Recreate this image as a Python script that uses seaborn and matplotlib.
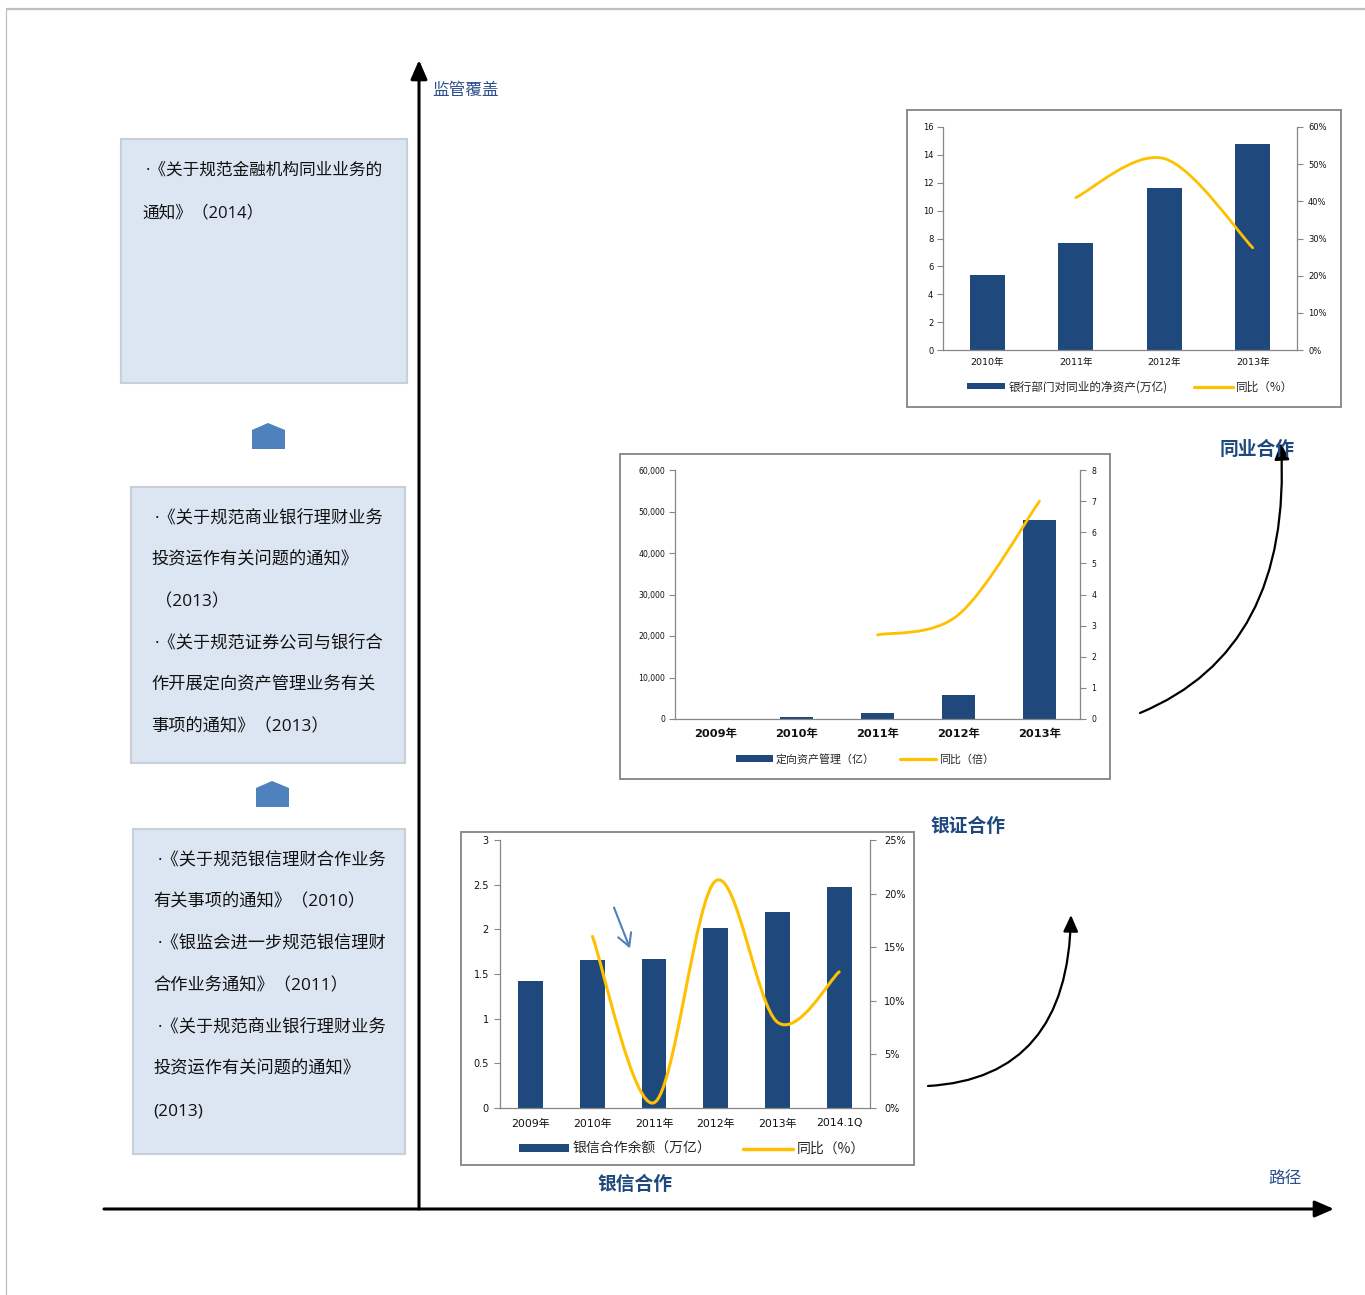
import numpy as np
import matplotlib
matplotlib.use('Agg')
import matplotlib.pyplot as plt
import seaborn as sns
import pandas as pd
from matplotlib.path import Path
from matplotlib.patches import PathPatch, Rectangle, Polygon, FancyArrowPatch, Patch
from matplotlib.lines import Line2D

# ---------------- data ----------------
c1_years = ['2010年', '2011年', '2012年', '2013年']
c1_assets = [5.4, 7.65, 11.6, 14.8]          # 银行部门对同业的净资产(万亿)
c1_yoy_years = ['2011年', '2012年', '2013年']
c1_yoy = [41.0, 51.5, 27.5]                   # 同比 %

c2_years = ['2009年', '2010年', '2011年', '2012年', '2013年']
c2_amt = [0, 400, 1400, 5900, 48000]          # 定向资产管理（亿）
c2_yoy_years = ['2011年', '2012年', '2013年']
c2_yoy = [2.7, 3.35, 7.0]                     # 同比（倍）

c3_years = ['2009年', '2010年', '2011年', '2012年', '2013年', '2014.1Q']
c3_bal = [1.42, 1.66, 1.67, 2.02, 2.19, 2.47]  # 银信合作余额（万亿）
c3_yoy_years = ['2010年', '2011年', '2012年', '2013年', '2014.1Q']
c3_yoy = [16.0, 0.5, 21.2, 8.0, 12.7]          # 同比 %

box1_lines = ['·《关于规范金融机构同业业务的', '通知》（2014）']
box2_lines = ['·《关于规范商业银行理财业务', '投资运作有关问题的通知》', '（2013）',
              '·《关于规范证券公司与银行合', '作开展定向资产管理业务有关', '事项的通知》（2013）']
box3_lines = ['·《关于规范银信理财合作业务', '有关事项的通知》（2010）', '·《银监会进一步规范银信理财',
              '合作业务通知》（2011）', '·《关于规范商业银行理财业务', '投资运作有关问题的通知》', '(2013)']

# ---------------- style ----------------
sns.set_style('white')
plt.rcParams['font.family'] = ['DejaVu Sans', 'Noto Sans CJK SC']
plt.rcParams['axes.unicode_minus'] = False

W, H = 1365, 1295
BAR = '#1F497D'
LINE = '#FFC000'
GRAY = '#868686'
NAVY = '#1F497D'
CJK = ['Noto Sans CJK SC', 'DejaVu Sans']
BOXF = ['Open Sans', 'Noto Sans CJK SC']

fig = plt.figure(figsize=(W / 100, H / 100), dpi=100)
fig.patch.set_facecolor('white')

ov = fig.add_axes([0, 0, 1, 1])
ov.set_xlim(0, W)
ov.set_ylim(H, 0)
ov.axis('off')

# page border
ov.plot([6, W], [9, 9], color='#BFBFBF', lw=1.6, solid_capstyle='butt')
ov.plot([6, 6], [9, H], color='#BFBFBF', lw=0.9)

# text boxes
for (x0, y0, x1, y1) in [(121, 139, 407, 383), (131, 487, 405, 763), (133, 829, 405, 1154)]:
    ov.add_patch(Rectangle((x0, y0), x1 - x0, y1 - y0, fc='#DCE6F2', ec='#C8CFD8', lw=1.5))

def put_lines(lines, xs, ys, fs):
    for s, x, y in zip(lines, xs, ys):
        ov.text(x, y, s, ha='left', va='center', fontsize=fs, color='#111111', family=BOXF)

put_lines(box1_lines, [146, 142], [171, 213], 12.0)
put_lines(box2_lines, [155, 151, 155, 155, 151, 151], [518, 560, 602, 643, 685, 727], 12.4)
put_lines(box3_lines, [158, 153, 158, 153, 158, 153, 153], [861, 902, 944, 986, 1027, 1069, 1111], 12.4)

# pentagons
for dx, dy in [(0, 0), (4, 358)]:
    pts = [(252 + dx, 449 + dy), (252 + dx, 430 + dy), (268 + dx, 423 + dy),
           (285 + dx, 430 + dy), (285 + dx, 449 + dy)]
    ov.add_patch(Polygon(pts, closed=True, fc='#4F81BD', ec='none'))

# main axes arrows
ov.add_patch(FancyArrowPatch((419, 1209), (419, 60), arrowstyle='-|>,head_length=1.15,head_width=0.5',
                             mutation_scale=10, lw=2.2, color='black', shrinkA=0, shrinkB=0))
ov.add_patch(FancyArrowPatch((104, 1209), (1334, 1209), arrowstyle='-|>,head_length=1.15,head_width=0.5',
                             mutation_scale=10, lw=2.2, color='black', shrinkA=0, shrinkB=0))

ov.text(432, 90, '监管覆盖', ha='left', va='center', fontsize=12, color='#2E4F8C', family=CJK)
ov.text(1268, 1179, '路径', ha='left', va='center', fontsize=12, color='#2E4F8C', family=CJK)
ov.text(1220, 449, '同业合作', ha='left', va='center', fontsize=13.5, color=NAVY, fontweight='bold', family=CJK)
ov.text(930, 826, '银证合作', ha='left', va='center', fontsize=13.5, color=NAVY, fontweight='bold', family=CJK)
ov.text(597, 1184, '银信合作', ha='left', va='center', fontsize=13.5, color=NAVY, fontweight='bold', family=CJK)

# chart frames
for (x0, y0, x1, y1) in [(907, 110, 1341, 407), (620, 454, 1110, 779), (461, 832, 914, 1165)]:
    ov.add_patch(Rectangle((x0, y0), x1 - x0, y1 - y0, fc='white', ec='#8C8C8C', lw=1.4))

# curved arrows
p1 = Path([(928, 1086), (1068, 1078), (1071, 915)], [Path.MOVETO, Path.CURVE3, Path.CURVE3])
ov.add_patch(FancyArrowPatch(path=p1, arrowstyle='-|>,head_length=1.0,head_width=0.45',
                             mutation_scale=10, lw=1.6, color='black'))
p2 = Path([(1140, 713), (1292, 650), (1281, 443)], [Path.MOVETO, Path.CURVE3, Path.CURVE3])
ov.add_patch(FancyArrowPatch(path=p2, arrowstyle='-|>,head_length=1.0,head_width=0.45',
                             mutation_scale=10, lw=1.6, color='black'))


def smooth_path(xs, ys):
    xs = np.asarray(xs, float)
    ys = np.asarray(ys, float)
    n = len(xs)
    verts = [(xs[0], ys[0])]
    codes = [Path.MOVETO]
    for i in range(n - 1):
        p0 = np.array([xs[max(i - 1, 0)], ys[max(i - 1, 0)]])
        pa = np.array([xs[i], ys[i]])
        pb = np.array([xs[i + 1], ys[i + 1]])
        p3 = np.array([xs[min(i + 2, n - 1)], ys[min(i + 2, n - 1)]])
        ca = pa + (pb - p0) / 6
        cb = pb - (p3 - pa) / 6
        verts += [tuple(ca), tuple(cb), tuple(pb)]
        codes += [Path.CURVE4] * 3
    return Path(verts, codes)


def make_chart(rect, cats, bars, ycats, yoy, lylim, lyticks, lylabels, rylim, ryticks, rylabels,
               fs_y, fs_x, xbold, lw, xpad, lpad, rpad, legend_labels, leg_xy, leg_fs, hl, hh, cs):
    l, t, r, b = rect
    ax = fig.add_axes([l / W, 1 - b / H, (r - l) / W, (b - t) / H])
    ax.set_facecolor('none')
    df = pd.DataFrame({'cat': cats, 'val': bars})
    sns.barplot(data=df, x='cat', y='val', ax=ax, color=BAR, saturation=1, width=0.4,
                errorbar=None, linewidth=0)
    n = len(cats)
    ax.set_xlim(-0.5, n - 0.5)
    ax.set_ylim(*lylim)
    ax.set_xlabel('')
    ax.set_ylabel('')
    ax.set_xticks(range(n))
    ax.set_xticklabels(cats, fontsize=fs_x, fontweight='bold' if xbold else 'normal', color='#111111')
    ax.set_xticks(np.arange(-0.5, n, 1.0), minor=True)
    ax.tick_params(axis='x', which='major', length=0, pad=xpad)
    ax.tick_params(axis='x', which='minor', length=4, width=0.8, color=GRAY, direction='out')
    ax.set_yticks(lyticks)
    ax.set_yticklabels(lylabels, fontsize=fs_y, color='#111111')
    ax.tick_params(axis='y', length=4, width=0.8, color=GRAY, direction='out', pad=lpad, left=True)
    for s in ['top', 'right']:
        ax.spines[s].set_visible(False)
    for s in ['left', 'bottom']:
        ax.spines[s].set_color(GRAY)
        ax.spines[s].set_linewidth(0.9)
    ax2 = ax.twinx()
    ax2.set_ylim(*rylim)
    ax2.set_yticks(ryticks)
    ax2.set_yticklabels(rylabels, fontsize=fs_y, color='#111111')
    ax2.tick_params(axis='y', length=4, width=0.8, color=GRAY, direction='out', pad=rpad, right=True)
    for s in ['top', 'left', 'bottom']:
        ax2.spines[s].set_visible(False)
    ax2.spines['right'].set_color(GRAY)
    ax2.spines['right'].set_linewidth(0.9)
    xs = [cats.index(c) for c in ycats]
    ax2.add_patch(PathPatch(smooth_path(xs, yoy), fill=False, ec=LINE, lw=lw, capstyle='round'))
    handles = [Patch(facecolor=BAR, edgecolor='none'), Line2D([], [], color=LINE, lw=lw + 0.3)]
    fig.legend(handles, legend_labels, loc='center', bbox_to_anchor=(leg_xy[0] / W, 1 - leg_xy[1] / H),
               bbox_transform=fig.transFigure, ncol=2, frameon=False,
               handlelength=hl, handleheight=hh, columnspacing=cs, handletextpad=0.25,
               borderpad=0, borderaxespad=0, prop={'family': CJK, 'size': leg_fs})
    return ax, ax2


# chart 1: 同业
make_chart((943, 127, 1297, 350), c1_years, c1_assets, c1_yoy_years, c1_yoy,
           (0, 16), list(range(0, 17, 2)), [str(v) for v in range(0, 17, 2)],
           (0, 60), list(range(0, 61, 10)), [f'{v}%' for v in range(0, 61, 10)],
           fs_y=6.0, fs_x=6.8, xbold=False, lw=2.0, xpad=5.5, lpad=3, rpad=4,
           legend_labels=['银行部门对同业的净资产(万亿)', '同比（%）'], leg_xy=(1130, 387), leg_fs=8.4,
           hl=3.3, hh=0.42, cs=2.3)

# chart 2: 银证
make_chart((675, 470, 1080, 719), c2_years, c2_amt, c2_yoy_years, c2_yoy,
           (0, 60000), list(range(0, 60001, 10000)), [f'{v:,}' for v in range(0, 60001, 10000)],
           (0, 8), list(range(0, 9)), [str(v) for v in range(0, 9)],
           fs_y=5.6, fs_x=8.2, xbold=True, lw=2.0, xpad=7, lpad=3, rpad=4,
           legend_labels=['定向资产管理（亿）', '同比（倍）'], leg_xy=(865, 759), leg_fs=7.9,
           hl=3.3, hh=0.5, cs=2.3)

# chart 3: 银信
make_chart((500, 840, 870, 1108), c3_years, c3_bal, c3_yoy_years, c3_yoy,
           (0, 3), [0, 0.5, 1, 1.5, 2, 2.5, 3], ['0', '0.5', '1', '1.5', '2', '2.5', '3'],
           (0, 25), list(range(0, 26, 5)), [f'{v}%' for v in range(0, 26, 5)],
           fs_y=7.0, fs_x=7.8, xbold=False, lw=2.2, xpad=7.5, lpad=4, rpad=6,
           legend_labels=['银信合作余额（万亿）', '同比（%）'], leg_xy=(692, 1149), leg_fs=10.0,
           hl=3.6, hh=0.45, cs=2.3)

# small blue pointer arrow in chart 3
ov_top = fig.add_axes([0, 0, 1, 1], zorder=10)
ov_top.set_xlim(0, W)
ov_top.set_ylim(H, 0)
ov_top.axis('off')
ov_top.patch.set_alpha(0)
ov_top.add_patch(FancyArrowPatch((613, 905), (631, 951), arrowstyle='->,head_length=0.9,head_width=0.5',
                                 mutation_scale=10, lw=1.5, color='#4F81BD'))

fig.savefig('out.png', dpi=100)
